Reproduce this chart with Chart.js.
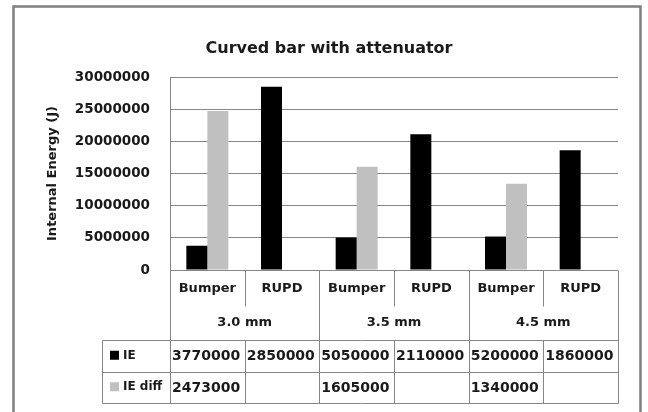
<!DOCTYPE html>
<html>
<head>
<meta charset="utf-8">
<script src="https://cdn.jsdelivr.net/npm/chart.js@4/dist/chart.umd.min.js"></script>
<style>
  html, body { margin: 0; padding: 0; background: #ffffff; }
  #wrap { width: 648px; height: 412px; position: relative; }
</style>
</head>
<body>
<div id="wrap"><canvas id="c" width="648" height="412"></canvas></div>
<script>
// ---- data ----
const groups = ['3.0 mm', '3.5 mm', '4.5 mm'];
const parts = ['Bumper', 'RUPD'];
const categories = ['Bumper', 'RUPD', 'Bumper', 'RUPD', 'Bumper', 'RUPD'];
const ieValues = [3770000, 28500000, 5050000, 21100000, 5200000, 18600000];
const ieDiffValues = [24730000, null, 16050000, null, 13400000, null];
// data-table cell text as printed in the reference
const ieTableText = ['3770000', '2850000', '5050000', '2110000', '5200000', '1860000'];
const ieDiffTableText = ['2473000', '', '1605000', '', '1340000', ''];
const seriesNames = ['IE', 'IE diff'];
const yTicks = [0, 5000000, 10000000, 15000000, 20000000, 25000000, 30000000];

const FONT = 'DejaVu Sans';
const GRID = '#868686';
const TEXT = '#1a1a1a';
const colors = ['#000000', '#c0c0c0'];

const tablePlugin = {
  id: 'dataTable',
  beforeDraw(chart) {
    const ctx = chart.ctx;
    ctx.save();
    ctx.fillStyle = '#ffffff';
    ctx.fillRect(0, 0, chart.width, chart.height);
    ctx.strokeStyle = '#7f7f7f';
    ctx.lineWidth = 2.5;
    ctx.strokeRect(13.5, 6.5, 627, 420);
    ctx.restore();
  },
  afterDraw(chart) {
    const ctx = chart.ctx;
    const x = chart.scales.x;
    const area = chart.chartArea;
    const n = categories.length;
    const step = (area.right - area.left) / n;
    const bottom = area.bottom;
    const rowSub = bottom + 36;      // end of Bumper/RUPD row
    const rowHead = bottom + 70;     // end of group row
    const rowIE = rowHead + 31.5;
    const rowDiff = rowIE + 31.5;
    const headLeft = 102;
    ctx.save();
    ctx.strokeStyle = GRID;
    ctx.lineWidth = 1;
    const line = (x1, y1, x2, y2) => {
      ctx.beginPath();
      ctx.moveTo(Math.round(x1) + 0.5, Math.round(y1) + 0.5);
      ctx.lineTo(Math.round(x2) + 0.5, Math.round(y2) + 0.5);
      ctx.stroke();
    };
    // vertical boundaries
    for (let i = 0; i <= n; i++) {
      const bx = area.left + i * step;
      if (i % 2 === 0) {
        line(bx, bottom, bx, rowDiff);
      } else {
        line(bx, bottom, bx, rowSub);
        line(bx, rowHead, bx, rowDiff);
      }
    }
    // horizontal lines
    line(headLeft, rowHead, area.right, rowHead);
    line(headLeft, rowIE, area.right, rowIE);
    line(headLeft, rowDiff, area.right, rowDiff);
    line(headLeft, rowHead, headLeft, rowDiff);

    ctx.fillStyle = TEXT;
    ctx.textBaseline = 'middle';
    // category labels
    ctx.font = 'bold 13px "' + FONT + '"';
    ctx.textAlign = 'center';
    categories.forEach((lab, i) => {
      ctx.fillText(lab, x.getPixelForValue(i), bottom + 19);
    });
    // group labels
    groups.forEach((g, gi) => {
      const cx = area.left + (gi * 2 + 1) * step;
      ctx.fillText(g, cx, bottom + 53);
    });
    // series row headers
    ctx.textAlign = 'left';
    ctx.font = 'bold 12px "' + FONT + '"';
    const rowsY = [(rowHead + rowIE) / 2, (rowIE + rowDiff) / 2];
    seriesNames.forEach((s, si) => {
      ctx.fillStyle = colors[si];
      ctx.fillRect(110, rowsY[si] - 5, 9, 9);
      ctx.fillStyle = TEXT;
      ctx.fillText(s, 123, rowsY[si]);
    });
    // cell values
    ctx.font = 'bold 14px "' + FONT + '"';
    [ieTableText, ieDiffTableText].forEach((row, ri) => {
      row.forEach((t, i) => {
        if (t) ctx.fillText(t, area.left + i * step + 2, rowsY[ri] + 1);
      });
    });
    ctx.restore();
  }
};

new Chart(document.getElementById('c'), {
  type: 'bar',
  data: {
    labels: categories,
    datasets: [
      { label: seriesNames[0], data: ieValues, backgroundColor: colors[0], borderWidth: 0 },
      { label: seriesNames[1], data: ieDiffValues, backgroundColor: colors[1], borderWidth: 0 }
    ]
  },
  options: {
    responsive: false,
    animation: false,
    devicePixelRatio: 1,
    layout: { padding: { left: 40, right: 30, top: 0, bottom: 0 } },
    datasets: { bar: { categoryPercentage: 0.5625, barPercentage: 1.0 } },
    plugins: {
      legend: { display: false },
      tooltip: { enabled: false },
      title: {
        display: true,
        text: 'Curved bar with attenuator',
        color: TEXT,
        font: { family: FONT, size: 16, weight: 'bold', lineHeight: 1.2 },
        padding: { top: 39.4, bottom: 18.4 }
      }
    },
    scales: {
      x: {
        offset: true,
        grid: { display: false, drawTicks: false },
        border: { display: false },
        ticks: { display: false },
        afterFit(scale) { scale.height = 142; }
      },
      y: {
        min: 0,
        max: 30000000,
        afterBuildTicks(scale) { scale.ticks = yTicks.map(v => ({ value: v })); },
        grid: { color: GRID, lineWidth: 1, drawTicks: false },
        border: { display: true, color: GRID, width: 1 },
        ticks: {
          padding: 20,
          color: TEXT,
          font: { family: FONT, size: 13.5, weight: 'bold' },
          callback: (v) => String(v)
        },
        title: {
          display: true,
          text: 'Internal Energy (J)',
          color: TEXT,
          font: { family: FONT, size: 13, weight: 'bold', lineHeight: 1.2 },
          padding: { top: 5.2, bottom: 0 }
        },
        afterFit(scale) { scale.width = 130; }
      }
    }
  },
  plugins: [tablePlugin]
});
</script>
</body>
</html>
